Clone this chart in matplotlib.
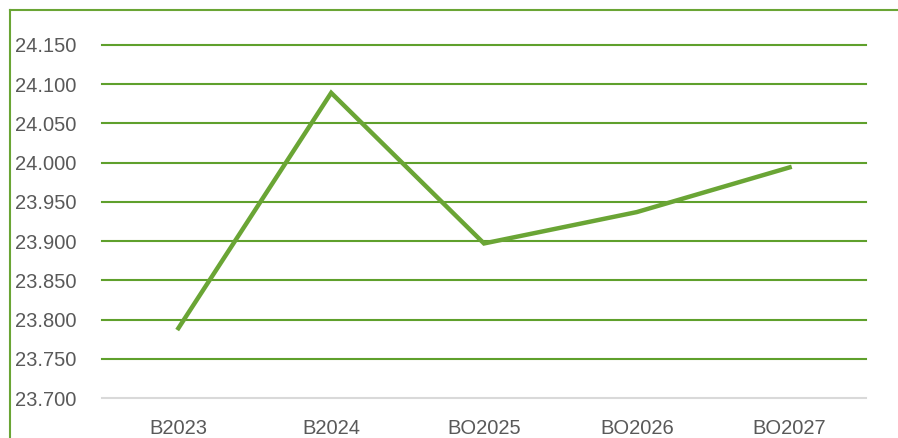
import numpy as np
import matplotlib.pyplot as plt
from matplotlib.lines import Line2D

categories = ["B2023", "B2024", "BO2025", "BO2026", "BO2027"]
values = [23.789, 24.089, 23.897, 23.937, 23.994]
yticks = [23.700, 23.750, 23.800, 23.850, 23.900, 23.950, 24.000, 24.050, 24.100, 24.150]

green = "#6AA535"
grid_green = "#5FA02C"

plt.rcParams["font.family"] = ["Liberation Sans", "DejaVu Sans"]

fig = plt.figure(figsize=(8.98, 4.38), dpi=100)
ax = fig.add_axes([102 / 898, 1 - 398 / 438, 764 / 898, (398 - 45) / 438])

x = np.arange(len(categories))
ax.plot(x, values, color=green, lw=3.2, solid_joinstyle="miter", zorder=3)

ax.set_xlim(-0.5, len(categories) - 0.5)
ax.set_ylim(23.700, 24.150)
ax.set_yticks(yticks)
ax.set_yticklabels([f"{v:.3f}" for v in yticks])
ax.set_xticks(x)
ax.set_xticklabels(categories)

for v in yticks:
    col = "#D9D9D9" if v == yticks[0] else grid_green
    ax.axhline(v, color=col, lw=1.5, zorder=1, clip_on=False)

for s in ax.spines.values():
    s.set_visible(False)
ax.tick_params(length=0, labelsize=14.5, colors="#595959")
ax.tick_params(axis="y", pad=0)
ax.tick_params(axis="x", pad=15)
for lab in ax.get_yticklabels():
    lab.set_horizontalalignment("left")
    lab.set_x(-87 / 764)

# outer chart border (clipped at top/right)
fig.add_artist(Line2D([10 / 898, 1], [1 - 10 / 438] * 2, color=green, lw=1.5))
fig.add_artist(Line2D([10 / 898] * 2, [0, 1 - 10 / 438], color=green, lw=1.5))

fig.savefig("out.png", dpi=100)
